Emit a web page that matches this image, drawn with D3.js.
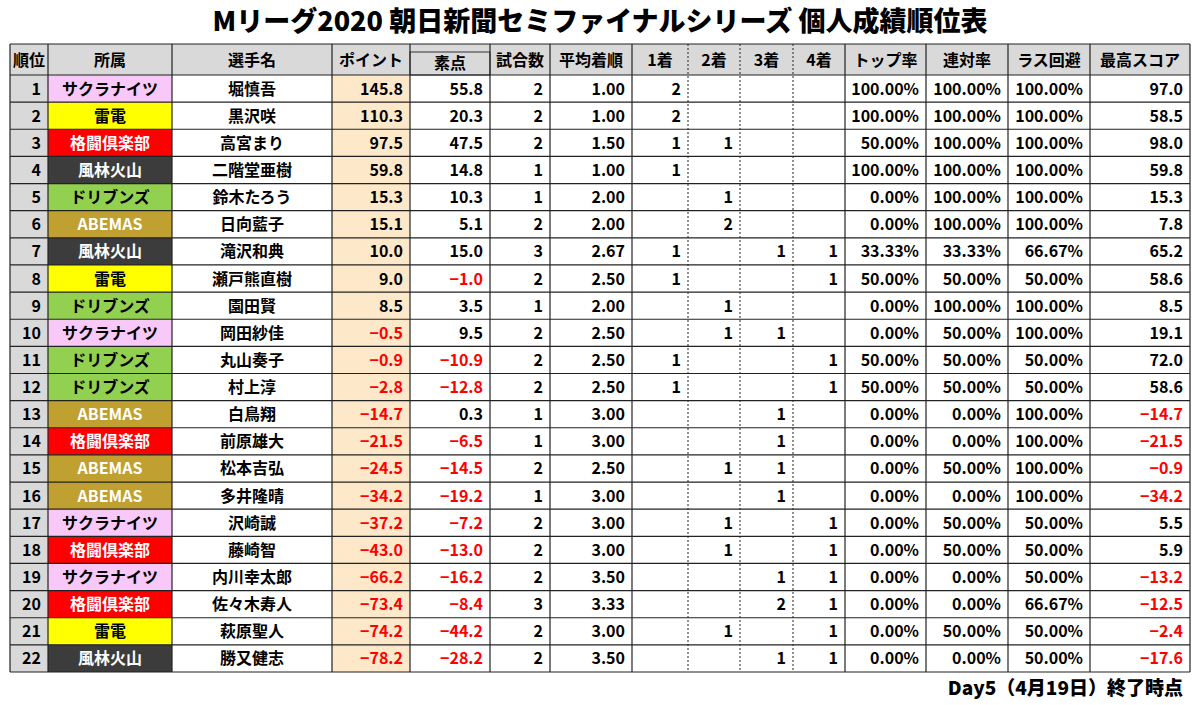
<!DOCTYPE html>
<html><head><meta charset="utf-8">
<script src="https://cdn.jsdelivr.net/npm/d3@7"></script>
<style>body{margin:0;background:#fff;}</style></head>
<body><svg id="c" width="1200" height="705"></svg>
<script>
const teams=["サクラナイツ","雷電","格闘倶楽部","風林火山","ドリブンズ","ABEMAS","風林火山","雷電","ドリブンズ","サクラナイツ","ドリブンズ","ドリブンズ","ABEMAS","格闘倶楽部","ABEMAS","ABEMAS","サクラナイツ","格闘倶楽部","サクラナイツ","格闘倶楽部","雷電","風林火山"];
const players=["堀慎吾","黒沢咲","高宮まり","二階堂亜樹","鈴木たろう","日向藍子","滝沢和典","瀬戸熊直樹","園田賢","岡田紗佳","丸山奏子","村上淳","白鳥翔","前原雄大","松本吉弘","多井隆晴","沢崎誠","藤崎智","内川幸太郎","佐々木寿人","萩原聖人","勝又健志"];
const points=[145.8,110.3,97.5,59.8,15.3,15.1,10.0,9.0,8.5,-0.5,-0.9,-2.8,-14.7,-21.5,-24.5,-34.2,-37.2,-43.0,-66.2,-73.4,-74.2,-78.2];
const rawScore=[55.8,20.3,47.5,14.8,10.3,5.1,15.0,-1.0,3.5,9.5,-10.9,-12.8,0.3,-6.5,-14.5,-19.2,-7.2,-13.0,-16.2,-8.4,-44.2,-28.2];
const games=[2,2,2,1,1,2,3,2,1,2,2,2,1,1,2,1,2,2,2,3,2,2];
const avgRank=[1.00,1.00,1.50,1.00,2.00,2.00,2.67,2.50,2.00,2.50,2.50,2.50,3.00,3.00,2.50,3.00,3.00,3.00,3.50,3.33,3.00,3.50];
const first=[2,2,1,1,0,0,1,1,0,0,1,1,0,0,0,0,0,0,0,0,0,0];
const second=[0,0,1,0,1,2,0,0,1,1,0,0,0,0,1,0,1,1,0,0,1,0];
const third=[0,0,0,0,0,0,1,0,0,1,0,0,1,1,1,1,0,0,1,2,0,1];
const fourth=[0,0,0,0,0,0,1,1,0,0,1,1,0,0,0,0,1,1,1,1,1,1];
const topRate=[100,100,50,100,0,0,33.33,50,0,0,50,50,0,0,0,0,0,0,0,0,0,0];
const rentai=[100,100,100,100,100,100,33.33,50,100,50,50,50,0,0,50,0,50,50,0,0,50,0];
const lasAvoid=[100,100,100,100,100,100,66.67,50,100,100,50,50,100,100,100,100,50,50,50,66.67,50,50];
const best=[97.0,58.5,98.0,59.8,15.3,7.8,65.2,58.6,8.5,19.1,72.0,58.6,-14.7,-21.5,-0.9,-34.2,5.5,5.9,-13.2,-12.5,-2.4,-17.6];
const headers=["順位","所属","選手名","ポイント","素点","試合数","平均着順","1着","2着","3着","4着","トップ率","連対率","ラス回避","最高スコア"];
const teamFill={"サクラナイツ":"#f8c8f8","雷電":"#ffff00","格闘倶楽部":"#ff0000","風林火山":"#3c3c3c","ドリブンズ":"#92d050","ABEMAS":"#c0a030"};
const teamText={"サクラナイツ":"#000","雷電":"#000","格闘倶楽部":"#fff","風林火山":"#fff","ドリブンズ":"#000","ABEMAS":"#fff"};

const edges=[10,48,172,332,410,490,550,632,688,740,793,845,926,1008,1090,1190];
const svg=d3.select("#c");
const F="'Noto Sans CJK JP','Noto Sans',sans-serif";
svg.append("text").attr("x",600).attr("y",31).attr("text-anchor","middle").attr("font-family",F).attr("font-weight",900).attr("font-size",27).text("Mリーグ2020 朝日新聞セミファイナルシリーズ 個人成績順位表");

const hTop=44,hBot=75;
const y=d3.scaleBand().domain(d3.range(22)).range([hBot,672]);
headers.forEach((h,i)=>{
  const x0=edges[i],x1=edges[i+1];
  svg.append("rect").attr("x",x0).attr("y",hTop).attr("width",x1-x0).attr("height",hBot-hTop).attr("fill","#d9d9d9");
  svg.append("text").attr("x",(x0+x1)/2).attr("y",(hTop+hBot)/2+6+(i===4?3:0)).attr("text-anchor","middle").attr("font-family",F).attr("font-size",16).attr("font-weight",600).text(h);
});
svg.append("rect").attr("x",edges[4]).attr("y",hTop+8).attr("width",edges[5]-edges[4]).attr("height",hBot-hTop-8).attr("fill","none").attr("stroke","#333").attr("stroke-width",1);

const fmt1=d3.format(".1f"),fmt2=d3.format(".2f"),pct=v=>fmt2(v)+"%";
d3.range(22).forEach(r=>{
  const yy=y(r),h=y.bandwidth(),ty=yy+h/2+6;
  const cells=[
    {v:r+1,a:"end",fill:"#d9d9d9"},
    {v:teams[r],a:"middle",fill:teamFill[teams[r]],col:teamText[teams[r]]},
    {v:players[r],a:"middle"},
    {v:fmt1(points[r]),a:"end",fill:"#fde9c9",col:points[r]<0?"#ff0000":"#000"},
    {v:fmt1(rawScore[r]),a:"end",col:rawScore[r]<0?"#ff0000":"#000"},
    {v:games[r],a:"end"},
    {v:fmt2(avgRank[r]),a:"end"},
    {v:first[r]||"",a:"end"},
    {v:second[r]||"",a:"end"},
    {v:third[r]||"",a:"end"},
    {v:fourth[r]||"",a:"end"},
    {v:pct(topRate[r]),a:"end"},
    {v:pct(rentai[r]),a:"end"},
    {v:pct(lasAvoid[r]),a:"end"},
    {v:fmt1(best[r]),a:"end",col:best[r]<0?"#ff0000":"#000"}
  ];
  cells.forEach((c,i)=>{
    const x0=edges[i],x1=edges[i+1];
    if(c.fill) svg.append("rect").attr("x",x0).attr("y",yy).attr("width",x1-x0).attr("height",h).attr("fill",c.fill);
    svg.append("text").attr("x",c.a==="end"?x1-7:(x0+x1)/2).attr("y",ty).attr("text-anchor",c.a)
      .attr("font-family",F).attr("font-size",16).attr("font-weight",i===1?700:600).attr("fill",c.col||"#000").text(c.v);
  });
});
const g=svg.append("g").attr("stroke","#222").attr("stroke-width",1.2);
[hTop,hBot].concat(d3.range(22).map(r=>y(r)+y.bandwidth())).forEach(yy=>g.append("line").attr("x1",edges[0]).attr("x2",edges[15]).attr("y1",yy).attr("y2",yy));
edges.forEach((x,i)=>{
  const dotted=(i===8||i===9||i===10);
  g.append("line").attr("x1",x).attr("x2",x).attr("y1",hTop).attr("y2",672).attr("stroke-dasharray",dotted?"2,2":null).attr("stroke-width",dotted?1:1.2);
});
svg.append("text").attr("x",1183).attr("y",695).attr("text-anchor","end").attr("font-family",F).attr("font-weight",900).attr("font-size",19).text("Day5（4月19日）終了時点");
</script></body></html>
